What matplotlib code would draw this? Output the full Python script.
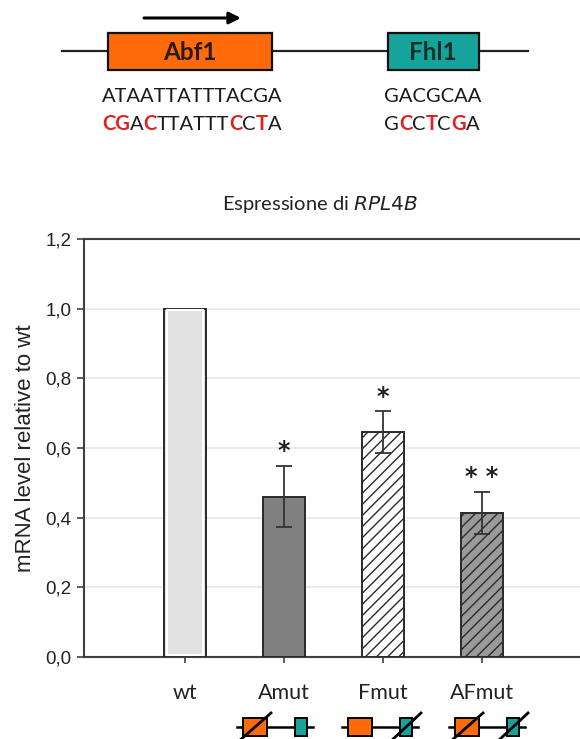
import matplotlib
matplotlib.use("Agg")
import matplotlib.pyplot as plt
from matplotlib.patches import Rectangle

# data
categories = ["wt", "Amut", "Fmut", "AFmut"]
values = [1.0, 0.46, 0.645, 0.414]
errors = [0.0, 0.088, 0.06, 0.06]
stars = ["", "*", "*", "* *"]
face_colors = ["#e2e2e2", "#808080", "white", "#9a9a9a"]
hatches = [None, None, "///", "///"]
yticks = [0.0, 0.2, 0.4, 0.6, 0.8, 1.0, 1.2]
ytick_labels = ["0,0", "0,2", "0,4", "0,6", "0,8", "1,0", "1,2"]

seq_abf1 = [("ATAATTATTTACGA", "k")]
seq_abf1_mut = [("CG", "r"), ("A", "k"), ("C", "r"), ("TTATTT", "k"), ("C", "r"),
                ("C", "k"), ("T", "r"), ("A", "k")]
seq_fhl1 = [("GACGCAA", "k")]
seq_fhl1_mut = [("G", "k"), ("C", "r"), ("C", "k"), ("T", "r"), ("C", "k"),
                ("G", "r"), ("A", "k")]

ORANGE = "#ff6a0a"
TEAL = "#16a39b"
RED = "#e3201c"
SPINE = "#404040"

fig = plt.figure(figsize=(5.8, 7.39), dpi=100)

# overlay in pixel coordinates for the schematic drawings
ov = fig.add_axes([0, 0, 1, 1])
ov.set_xlim(0, 580)
ov.set_ylim(739, 0)
ov.axis("off")

ax = fig.add_axes([0.1448, 0.111, 0.855, 0.5656])
x = list(range(len(categories)))
for i in x:
    ax.bar(i, values[i], width=0.42, color=face_colors[i], edgecolor="#2a2a2a",
           linewidth=1.4, hatch=hatches[i], zorder=3)
# white inner border on the wt bar
ax.bar(0, values[0] - 0.01, width=0.37, bottom=0.005, color=face_colors[0],
       edgecolor="white", linewidth=1.5, zorder=3)
ax.errorbar(x[1:], values[1:], yerr=errors[1:], fmt="none", ecolor="#333333",
            elinewidth=1.3, capsize=6, capthick=1.3, zorder=4)
for i in x:
    if stars[i]:
        ax.text(i, values[i] + errors[i] + 0.008, stars[i], ha="center", va="bottom",
                fontsize=17, fontweight="bold", color="#222222", family="DejaVu Sans")

ax.set_xlim(-1.02, 3.99)
ax.set_ylim(0, 1.2)
ax.set_yticks(yticks)
ax.set_yticklabels(ytick_labels, family="Liberation Sans", fontsize=13.5, color="#222222")
ax.set_xticks(x)
ax.set_xticklabels(categories, family="Lato", fontsize=15.5, color="#222222")
ax.tick_params(axis="y", direction="out", length=5, width=1.2, color=SPINE, pad=4)
ax.tick_params(axis="x", direction="out", length=4, width=1.2, color=SPINE, pad=15)
ax.yaxis.grid(True, color="#e8e8e8", linewidth=1.2, zorder=0)
ax.set_axisbelow(True)
for s in ["left", "top", "bottom"]:
    ax.spines[s].set_color(SPINE)
    ax.spines[s].set_linewidth(1.5)
ax.spines["right"].set_visible(False)
ax.set_ylabel("mRNA level relative to wt", family="Liberation Sans", fontsize=16,
              color="#222222", labelpad=7)
ax.set_title("Espressione di $\\it{RPL4B}$", family="Lato", fontsize=14.5,
             color="#222222", pad=21, x=0.477)

# gene schematic at top
ov.plot([62, 528], [51, 51], color="#222222", lw=1.6, zorder=1)
ov.add_patch(Rectangle((108, 33), 164, 37, facecolor=ORANGE, edgecolor="#111111",
                       lw=1.6, zorder=2))
ov.add_patch(Rectangle((388, 33), 91, 37, facecolor=TEAL, edgecolor="#111111",
                       lw=1.6, zorder=2))
ov.text(190, 53, "Abf1", ha="center", va="center", fontsize=17.5, fontweight="bold",
        family="Lato", color="#2a1a10", zorder=3)
ov.text(433, 53, "Fhl1", ha="center", va="center", fontsize=17.5, fontweight="bold",
        family="Lato", color="#10302c", zorder=3)
ov.annotate("", xy=(241, 18), xytext=(144, 18),
            arrowprops=dict(arrowstyle="-|>,head_length=0.7,head_width=0.35",
                            color="black", lw=2.2, shrinkA=0, shrinkB=0))

renderer = fig.canvas.get_renderer()


def draw_seq(x0, y0, parts):
    xp = x0
    for txt, c in parts:
        red = c == "r"
        t = ov.text(xp, y0, txt, ha="left", va="center", fontsize=14.5,
                    family="Lato", color=RED if red else "#1a1a1a",
                    fontweight="bold" if red else "normal")
        bb = t.get_window_extent(renderer)
        xp += bb.width * 580 / fig.bbox.width


draw_seq(102, 97, seq_abf1)
draw_seq(102, 124, seq_abf1_mut)
draw_seq(384, 97, seq_fhl1)
draw_seq(384, 124, seq_fhl1_mut)

# mutant schematics below x labels
mini = [(275, True, False), (380, False, True), (487, True, True)]
for cx, cut_a, cut_f in mini:
    ov.plot([cx - 38, cx + 38], [727, 727], color="black", lw=1.8, zorder=1)
    ov.add_patch(Rectangle((cx - 32, 718), 24, 18, facecolor=ORANGE,
                           edgecolor="black", lw=1.4, zorder=2))
    ov.add_patch(Rectangle((cx + 20, 718), 12, 18, facecolor=TEAL,
                           edgecolor="black", lw=1.4, zorder=2))
    if cut_a:
        ov.plot([cx - 36, cx - 4], [741, 713], color="black", lw=2, zorder=3)
    if cut_f:
        ov.plot([cx + 11, cx + 41], [741, 713], color="black", lw=2, zorder=3)

fig.savefig("out.png", dpi=100)
